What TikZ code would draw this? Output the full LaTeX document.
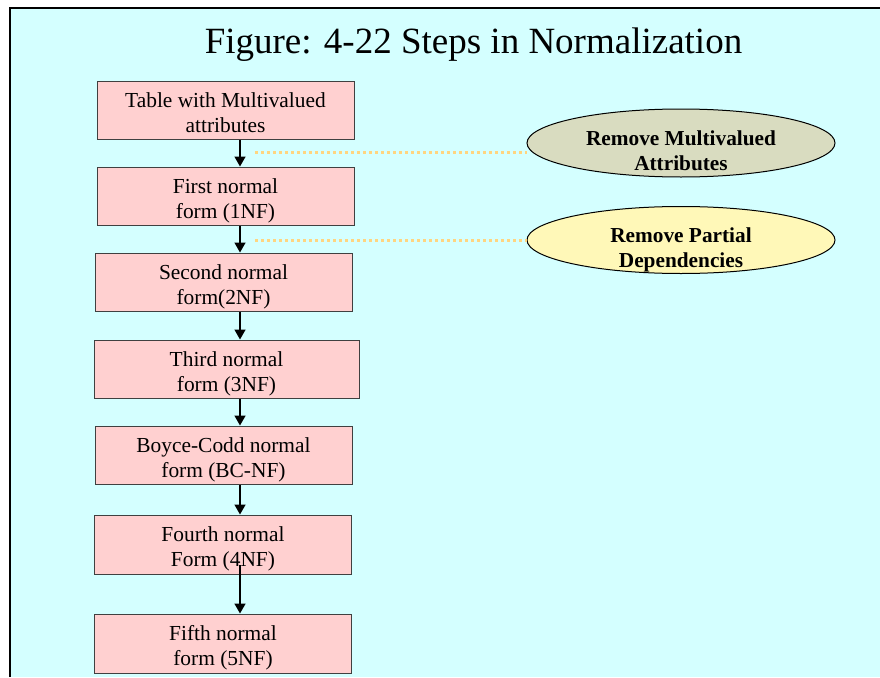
\documentclass[tikz,border=0pt]{standalone}
\usepackage{fontspec}
\setmainfont{Liberation Serif}
\usetikzlibrary{arrows.meta,shapes.geometric}

\definecolor{slidebg}{RGB}{212,255,255}
\definecolor{boxfill}{RGB}{255,208,208}
\definecolor{boxline}{RGB}{64,64,64}
\definecolor{olivefill}{RGB}{217,220,192}
\definecolor{yellowfill}{RGB}{255,248,184}
\definecolor{dotline}{RGB}{255,213,128}

\tikzset{
  nfbox/.style={rectangle,draw=boxline,line width=1pt,fill=boxfill,
    minimum width=257pt,minimum height=58pt,inner sep=0pt,align=center,
    text height=44pt,text depth=0pt,font=\fontsize{21.4}{25}\selectfont},
  rulenote/.style={ellipse,draw=black,line width=1pt,minimum width=308pt,
    minimum height=68pt,inner xsep=0pt,inner ysep=-14pt,align=center,
    text height=54pt,text depth=0pt,
    font=\fontsize{21.3}{25}\selectfont\bfseries},
  flow/.style={line width=1.6pt,-{Triangle[width=11pt,length=10pt]}},
  hint/.style={dotline,line width=3pt,dash pattern=on 3pt off 3pt}
}

\begin{document}
\begin{tikzpicture}[x=1pt,y=-1pt]
    \useasboundingbox (0,0) rectangle (880,677);

    % the slide background and its frame
    \fill[slidebg] (10,8) rectangle (880,677);
    \draw[line width=1.3pt] (10,677) -- (10,8) -- (880,8);

    % the title
    \node[anchor=base,font=\fontsize{37}{40}\selectfont] (title) at (473.5,54)
    {Figure: 4-22 Steps in Normalization};

    % the normal forms
    \node[nfbox] (b1) at (225.5,110) {Table with Multivalued\\attributes};
    \node[nfbox] (b2) at (225.5,196) {First normal\\form (1NF)};
    \node[nfbox] (b3) at (223.5,282) {Second normal\\form(2NF)};
    \node[nfbox,minimum width=265pt] (b4) at (226.5,369) {Third normal\\form (3NF)};
    \node[nfbox] (b5) at (223.5,455) {Boyce-Codd normal\\form (BC-NF)};
    \node[nfbox,minimum height=59pt] (b6) at (223,544.5) {Fourth normal\\Form (4NF)};
    \node[nfbox,minimum height=59pt] (b7) at (223,643.5) {Fifth normal\\form (5NF)};

    % the arrows between the boxes
    \coordinate (ax) at (240,0);
    \foreach \a/\b in {1/2,2/3,3/4,4/5,5/6} {
      \draw[flow] (b\a.south -| ax) -- (b\b.north -| ax); }
    \coordinate (s6) at (240,565);
    \draw[flow] (s6) -- (b7.north -| ax);

    % the dotted leaders to the notes
    \node[rulenote,fill=olivefill] (e1) at (681,143)
    {Remove Multivalued\\Attributes};
    \node[rulenote,fill=yellowfill,minimum height=67pt] (e2) at (681,240)
    {Remove Partial\\Dependencies};
    \coordinate (d1) at (255,152);
    \coordinate (d2) at (255,240);
    \draw[hint] (d1) -- (d1 -| e1.west);
    \draw[hint] (d2) -- (e2.west);
\end{tikzpicture}
\end{document}
